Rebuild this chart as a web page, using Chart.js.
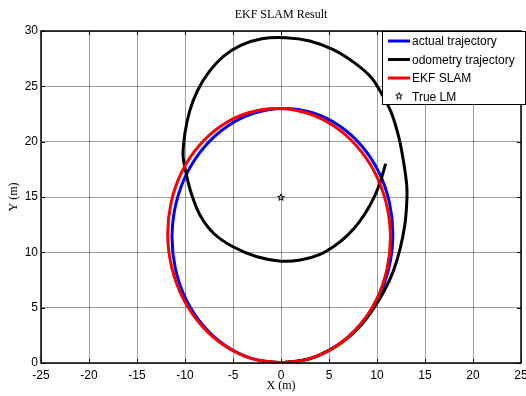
<!DOCTYPE html>
<html>
<head>
<meta charset="utf-8">
<script src="https://cdn.jsdelivr.net/npm/chart.js@4"></script>
<style>
html, body { margin: 0; padding: 0; background: #fff; }
#wrap { width: 526px; height: 396px; }
</style>
</head>
<body>
<div id="wrap"><canvas id="slamChart" width="526" height="396"></canvas></div>
<script>
// values (metres)
const actualX = [0, 2.99, 5.77, 8.17, 10.04, 11.22, 11.65, 11.30, 10.19, 8.39, 6.03, 3.28, 0.3, -2.69, -5.47, -7.87, -9.74, -10.92, -11.35, -11.00, -9.89, -8.09, -5.73, -2.98, 0]
const actualY = [0, 0.39, 1.54, 3.37, 5.75, 8.52, 11.5, 14.48, 17.25, 19.63, 21.46, 22.61, 23, 22.61, 21.46, 19.63, 17.25, 14.48, 11.5, 8.52, 5.75, 3.37, 1.54, 0.39, 0]

const slamX = [0, 2.99, 5.77, 8.14, 9.95, 11.05, 11.4, 10.95, 9.75, 7.86, 5.43, 2.61, -0.4, -3.39, -6.17, -8.54, -10.35, -11.45, -11.8, -11.35, -10.15, -8.26, -5.83, -3.01, 0]
const slamY = [0, 0.39, 1.54, 3.37, 5.75, 8.52, 11.5, 14.48, 17.25, 19.63, 21.46, 22.61, 23, 22.61, 21.46, 19.63, 17.25, 14.48, 11.5, 8.52, 5.75, 3.37, 1.54, 0.39, 0]

const odoX = [0, 2.98, 5.3, 7, 8.5, 9.7, 10.8, 11.7, 12.4, 12.9, 13.1, 13.1, 12.8, 12.3, 11.5, 10.5, 9.4, 7.7, 5.5, 3, 0.5, -2, -4.2, -6, -7.5, -8.7, -9.5, -10.0, -10.2, -9.9, -9.3, -8.4, -7.0, -5.0, -2.5, 0, 2, 4, 5.6, 7.0, 8.2, 9.3, 10.2, 10.9]
const odoY = [0, 0.39, 1.3, 2.3, 3.6, 5.0, 6.6, 8.3, 10.3, 12.5, 14.5, 16.0, 18.0, 20.3, 22.6, 24.3, 25.8, 27.1, 28.3, 29.1, 29.4, 29.3, 28.7, 27.7, 26.3, 24.6, 22.8, 20.8, 18.8, 17.2, 15.2, 13.3, 11.7, 10.5, 9.6, 9.2, 9.3, 9.8, 10.6, 11.6, 12.8, 14.3, 16.0, 18.0]

const landmarkX = [0]
const landmarkY = [15]

const xTicks = [-25, -20, -15, -10, -5, 0, 5, 10, 15, 20, 25]
const yTicks = [0, 5, 10, 15, 20, 25, 30]

const legendLabels = ['actual trajectory', 'odometry trajectory', 'EKF SLAM', 'True LM']

function toPoints(xs, ys) {
    return xs.map((x, i) => ({ x: x, y: ys[i] }))
}

// little pentagram like the matlab marker
function starMarker(size) {
    const c = document.createElement('canvas')
    c.width = size; c.height = size
    const g = c.getContext('2d')
    const cx = size / 2, cy = size / 2 + 0.5, ro = size / 2 - 0.5, ri = ro * 0.42
    g.beginPath()
    for (let i = 0; i < 10; i++) {
        const r = i % 2 == 0 ? ro : ri
        const a = -Math.PI / 2 + i * Math.PI / 5
        const px = cx + r * Math.cos(a), py = cy + r * Math.sin(a)
        if (i == 0) g.moveTo(px, py); else g.lineTo(px, py)
    }
    g.closePath()
    g.strokeStyle = '#000'
    g.lineWidth = 1
    g.stroke()
    return c
}
const star = starMarker(8)

const framePlugin = {
    id: 'frame',
    afterDraw(chart) {
        const ctx = chart.ctx
        const a = chart.chartArea
        const xs = chart.scales.x, ys = chart.scales.y
        ctx.save()
        ctx.strokeStyle = '#000'
        ctx.lineWidth = 1
        ctx.beginPath()
        xTicks.forEach(v => {
            const px = Math.round(xs.getPixelForValue(v)) + 0.5
            ctx.moveTo(px, a.top); ctx.lineTo(px, a.top + 4)
            ctx.moveTo(px, a.bottom); ctx.lineTo(px, a.bottom - 4)
        })
        yTicks.forEach(v => {
            const py = Math.round(ys.getPixelForValue(v)) + 0.5
            ctx.moveTo(a.left, py); ctx.lineTo(a.left + 4, py)
            ctx.moveTo(a.right, py); ctx.lineTo(a.right - 4, py)
        })
        ctx.stroke()

        ctx.lineWidth = 1.5
        ctx.strokeRect(a.left, a.top, a.right - a.left, a.bottom - a.top)

        // titles
        ctx.fillStyle = '#000'
        ctx.font = '12px "Liberation Serif", "DejaVu Serif", serif'
        ctx.textAlign = 'center'
        ctx.textBaseline = 'middle'
        ctx.fillText('EKF SLAM Result', (a.left + a.right) / 2, 15)
        ctx.fillText('X (m)', (a.left + a.right) / 2, 386)
        ctx.save()
        ctx.translate(14, (a.top + a.bottom) / 2)
        ctx.rotate(-Math.PI / 2)
        ctx.fillText('Y (m)', 0, 0)
        ctx.restore()

        // legend box
        const lx = 382, ly = 31, lw = 143, lh = 73
        ctx.fillStyle = '#fff'
        ctx.fillRect(lx, ly, lw, lh)
        ctx.lineWidth = 1
        ctx.strokeStyle = '#000'
        ctx.strokeRect(lx + 0.5, ly + 0.5, lw, lh)
        const colors = ['#0000ff', '#000000', '#ff0000']
        ctx.font = '12px "Liberation Sans", Arial, sans-serif'
        ctx.textAlign = 'left'
        ctx.fillStyle = '#000'
        for (let i = 0; i < legendLabels.length; i++) {
            const rowY = ly + 10 + i * 18.5
            if (i < 3) {
                ctx.strokeStyle = colors[i]
                ctx.lineWidth = 3
                ctx.beginPath()
                ctx.moveTo(lx + 6, rowY); ctx.lineTo(lx + 28, rowY)
                ctx.stroke()
            } else {
                ctx.drawImage(star, lx + 13, rowY - 5)
            }
            ctx.fillStyle = '#000'
            ctx.fillText(legendLabels[i], lx + 30, rowY + 1)
        }
        ctx.restore()
    }
}

const ctx_slam = document.getElementById('slamChart').getContext('2d')
const slamChart = new Chart(ctx_slam, {
    type: 'scatter',
    data: {
        datasets: [
            {
                label: legendLabels[0],
                data: toPoints(actualX, actualY),
                showLine: true,
                borderColor: '#0000ff',
                borderWidth: 3,
                pointRadius: 0,
                tension: 0.4,
                order: 3
            },
            {
                label: legendLabels[1],
                data: toPoints(odoX, odoY),
                showLine: true,
                borderColor: '#000000',
                borderWidth: 3,
                pointRadius: 0,
                tension: 0.35,
                order: 2
            },
            {
                label: legendLabels[2],
                data: toPoints(slamX, slamY),
                showLine: true,
                borderColor: '#ff0000',
                borderWidth: 3,
                pointRadius: 0,
                tension: 0.4,
                order: 1
            },
            {
                label: legendLabels[3],
                data: toPoints(landmarkX, landmarkY),
                showLine: false,
                pointStyle: star,
                pointRadius: 4,
                order: 0
            }
        ]
    },
    options: {
        responsive: false,
        animation: false,
        devicePixelRatio: 1,
        layout: { padding: { top: 31, right: 5, left: 0, bottom: 0 } },
        plugins: {
            legend: { display: false },
            title: { display: false },
            tooltip: { enabled: false }
        },
        scales: {
            x: {
                type: 'linear',
                min: -25,
                max: 25,
                afterFit(scale) {
                    scale.height = 33
                    scale.paddingLeft = 0
                    scale.paddingRight = 0
                },
                afterBuildTicks(scale) { scale.ticks = xTicks.map(v => ({ value: v })) },
                border: { display: false },
                grid: { color: 'rgba(0,0,0,0.38)', lineWidth: 1, drawTicks: false },
                ticks: {
                    color: '#000',
                    padding: 5,
                    maxRotation: 0,
                    autoSkip: false,
                    font: { family: '"Liberation Sans", Arial, sans-serif', size: 12 }
                }
            },
            y: {
                type: 'linear',
                min: 0,
                max: 30,
                afterFit(scale) {
                    scale.width = 41
                    scale.paddingTop = 0
                    scale.paddingBottom = 0
                },
                afterBuildTicks(scale) { scale.ticks = yTicks.map(v => ({ value: v })) },
                border: { display: false },
                grid: { color: 'rgba(0,0,0,0.38)', lineWidth: 1, drawTicks: false },
                ticks: {
                    color: '#000',
                    padding: 3,
                    autoSkip: false,
                    font: { family: '"Liberation Sans", Arial, sans-serif', size: 12 }
                }
            }
        }
    },
    plugins: [framePlugin]
})
</script>
</body>
</html>
